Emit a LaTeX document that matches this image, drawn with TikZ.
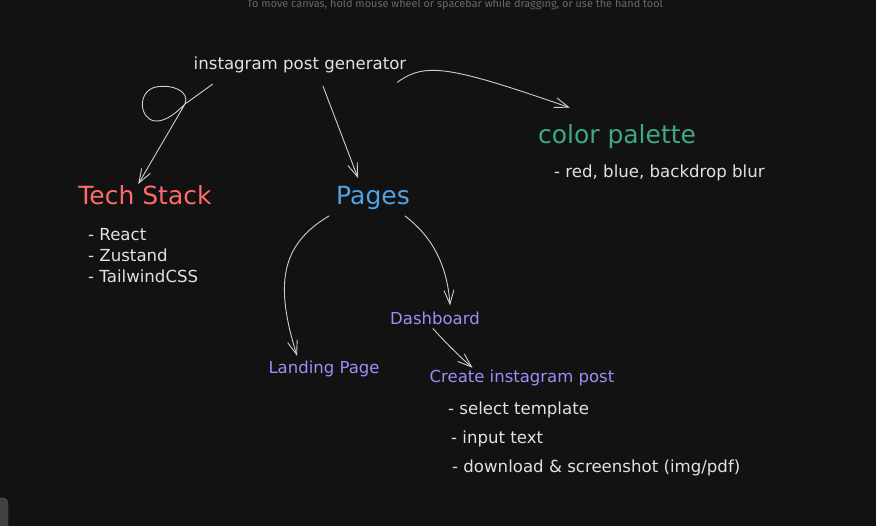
\documentclass[tikz,border=0pt]{standalone}
\usepackage{fontspec}
\setmainfont{DejaVu Sans}
\newfontfamily\hintfont{Fira Sans}
\usetikzlibrary{arrows.meta,calc,positioning}

\definecolor{canvas}{HTML}{121212}
\definecolor{ink}{HTML}{E2E2E2}
\definecolor{wire}{HTML}{CFCFCF}
\definecolor{hint}{HTML}{6A6A6A}
\definecolor{tealtxt}{HTML}{3DAA80}
\definecolor{redtxt}{HTML}{FF6B6B}
\definecolor{bluetxt}{HTML}{4DA3EA}
\definecolor{violet}{HTML}{A48BF6}

\tikzset{
  txt/.style={inner sep=0pt,text=ink,font=\fontsize{16.6}{18}\selectfont},
  head/.style={inner sep=0pt,font=\fontsize{25}{28}\selectfont},
  page/.style={inner sep=0pt,text=violet,font=\fontsize{16.5}{18}\selectfont},
  conn/.style={draw=wire,line width=0.9pt,line cap=round,line join=round,
    -{Straight Barb[length=14pt,width=10pt,line width=0.9pt]}}
}

\begin{document}
\begin{tikzpicture}[x=1pt,y=-1pt]
\useasboundingbox (0,0) rectangle (876,526);
\clip (0,0) rectangle (876,526);
\fill[canvas] (0,0) rectangle (876,526);

% canvas hint and corner widget
\node[inner sep=0pt,anchor=base,text=hint,font=\hintfont\fontsize{10.9}{12}\selectfont] (hintline) at (455,8)
  {To move canvas, hold mouse wheel or spacebar while dragging, or use the hand tool};
\filldraw[fill=canvas!80!white,draw=canvas!70!white,rounded corners=5pt] (-10,498) rectangle (8,545);

% titles
\node[txt] (gen) at (300,65) {instagram post generator};
\node[head,text=tealtxt] (palette) at (617,137) {color palette};
\node[txt,anchor=west] (palitem) at (554,173) {- red, blue, backdrop blur};
\node[head,text=redtxt] (tech) at (145,195) {Tech Stack};
\node[txt,anchor=north west,align=left,font=\fontsize{16.6}{21}\selectfont] (techlist) at (88,228)
  {- React\\- Zustand\\- TailwindCSS};
\node[head,text=bluetxt] (pages) at (373,198) {Pages};

% pages
\node[page] (dash) at (435,318) {Dashboard};
\node[page] (landing) at (324,369) {Landing Page};
\node[page] (create) at (522,378) {Create instagram post};
\node[txt,anchor=north west,align=left,font=\fontsize{16.6}{29}\selectfont] (createlist) at (448,402)
  {- select template\\\hspace*{3pt}- input text\\\hspace*{4pt}- download \& screenshot (img/pdf)};

% arrows
\draw[conn] ($(gen.south west)+(19,11)$) -- (185,104)
  .. controls (190,91) and (172,84) .. (156,87)
  .. controls (137,91) and (139,119) .. (155,121)
  .. controls (167,122) and (179,110) .. (185,104)
  -- ($(tech.north west)+(60,-1)$);
\draw[conn] ($(gen.south)+(23,13)$) -- ($(pages.north west)+(22,-8)$);
\draw[conn] ($(gen.south east)+(-9,9)$) .. controls (425,62) and (450,66) .. ($(palette.north west)+(32,-17)$);
\draw[conn] ($(pages.south west)+(-7,6)$) .. controls (280,245) and (275,285) .. ($(landing.north)+(-27,-5)$);
\draw[conn] ($(pages.south east)+(-5,6)$) .. controls (430,235) and (447,262) .. ($(dash.north)+(15,-6)$);
\draw[conn] ($(dash.south)+(-2,4)$) .. controls (445,342) and (458,355) .. ($(create.north west)+(43,-2)$);
\end{tikzpicture}
\end{document}
